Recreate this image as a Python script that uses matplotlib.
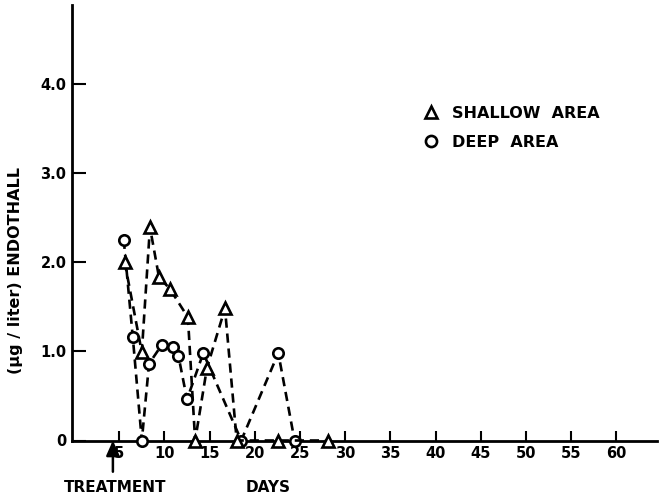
import matplotlib
matplotlib.use("Agg")
import matplotlib.pyplot as plt
from matplotlib.lines import Line2D

# values (days after start, ug/liter)
shallow_days = [5.6, 7.5, 8.4, 9.4, 10.6, 12.6, 13.4, 14.7, 16.7, 18.0, 22.6, 28.1]
shallow_vals = [2.00, 0.99, 2.39, 1.83, 1.70, 1.38, 0.0, 0.81, 1.48, 0.0, 0.0, 0.0]

deep_days = [5.5, 6.5, 7.5, 8.3, 9.7, 10.95, 11.55, 12.5, 14.3, 18.5, 22.6, 24.4]
deep_vals = [2.25, 1.16, 0.0, 0.86, 1.07, 1.05, 0.95, 0.46, 0.98, 0.0, 0.98, 0.0]

x_ticks = [5, 10, 15, 20, 25, 30, 35, 40, 45, 50, 55, 60]
y_ticks = [0, 1.0, 2.0, 3.0, 4.0]
y_ticklabels = ["0", "1.0", "2.0", "3.0", "4.0"]
treatment_day = 4.3

W, H = 659, 497
font = dict(family="DejaVu Sans", weight="bold")

fig = plt.figure(figsize=(W / 100, H / 100), dpi=100)
ax = fig.add_axes([71.5 / W, 1 - 440.5 / H, (657 - 71.5) / W, (440.5 - 5) / H])

for days, vals, marker, ms in [(deep_days, deep_vals, "o", 7.5),
                               (shallow_days, shallow_vals, "^", 8.5)]:
    line, = ax.plot(days, vals, color="black", lw=1.9, marker=marker, ms=ms,
                    mfc="white", mec="black", mew=1.9, clip_on=False, zorder=3)
    line.set_dashes((3.5, 2.2))

ax.set_xlim(-0.28, 64.5)
ax.set_ylim(0, 4.88)

for s in ["top", "right"]:
    ax.spines[s].set_visible(False)
for s in ["left", "bottom"]:
    ax.spines[s].set_linewidth(2)

ax.set_xticks(x_ticks)
ax.set_xticklabels([str(t) for t in x_ticks], **font, fontsize=10.5)
ax.set_yticks(y_ticks)
ax.set_yticklabels(y_ticklabels, **font, fontsize=10.5)
ax.tick_params(axis="x", direction="in", length=7, width=1.5, pad=4.3)
ax.tick_params(axis="y", direction="in", length=10, width=1.5, pad=3.6)

handles = [
    Line2D([], [], marker="^", ls="none", ms=9, mfc="white", mec="black", mew=1.9),
    Line2D([], [], marker="o", ls="none", ms=8, mfc="white", mec="black", mew=1.9),
]
ax.legend(handles, ["SHALLOW  AREA", "DEEP  AREA"], loc="upper left",
          bbox_to_anchor=(0.600, 0.769), frameon=False, borderaxespad=0,
          borderpad=0, handlelength=1.0, handletextpad=0.85, labelspacing=0.9,
          prop=dict(family="DejaVu Sans", weight="bold", size=11.5))

# treatment arrow below the axis
ax.annotate("", xy=(treatment_day, 0), xytext=(treatment_day, -0.35),
            xycoords="data", annotation_clip=False,
            arrowprops=dict(arrowstyle="-|>,head_length=0.9,head_width=0.4",
                            color="black", lw=1.8, shrinkA=0, shrinkB=0))

fig.text(115 / W, 1 - 488 / H, "TREATMENT", ha="center", va="center", fontsize=11, **font)
fig.text(268 / W, 1 - 488 / H, "DAYS", ha="center", va="center", fontsize=11, **font)
fig.text(16 / W, 1 - 270 / H, "(µg / liter) ENDOTHALL", ha="center", va="center",
         rotation=90, fontsize=11.5, **font)

fig.savefig("out.png", dpi=100)
